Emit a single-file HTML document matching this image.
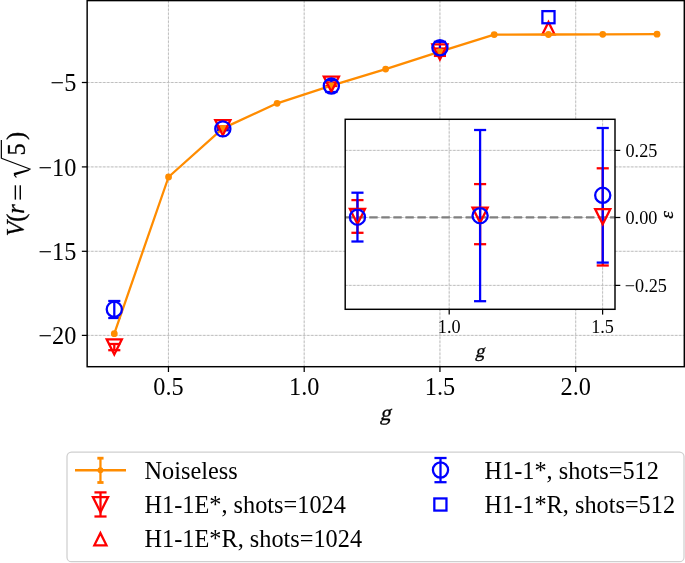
<!DOCTYPE html>
<html><head><meta charset="utf-8"><style>
html,body{margin:0;padding:0;background:#fff;width:685px;height:563px;overflow:hidden;}
svg{display:block;font-family:"Liberation Serif", serif;will-change:transform;}
text{fill:#000;}
</style></head><body>
<svg width="685" height="563" viewBox="0 0 685 563">
<line x1="168.45" y1="0.6" x2="168.45" y2="366.7" stroke="#e4e4e4" stroke-width="0.8"/><line x1="168.45" y1="0.6" x2="168.45" y2="366.7" stroke="#b4b4b4" stroke-width="0.8" stroke-dasharray="2.3,1.7"/>
<line x1="304.2" y1="0.6" x2="304.2" y2="366.7" stroke="#e4e4e4" stroke-width="0.8"/><line x1="304.2" y1="0.6" x2="304.2" y2="366.7" stroke="#b4b4b4" stroke-width="0.8" stroke-dasharray="2.3,1.7"/>
<line x1="439.95" y1="0.6" x2="439.95" y2="366.7" stroke="#e4e4e4" stroke-width="0.8"/><line x1="439.95" y1="0.6" x2="439.95" y2="366.7" stroke="#b4b4b4" stroke-width="0.8" stroke-dasharray="2.3,1.7"/>
<line x1="575.7" y1="0.6" x2="575.7" y2="366.7" stroke="#e4e4e4" stroke-width="0.8"/><line x1="575.7" y1="0.6" x2="575.7" y2="366.7" stroke="#b4b4b4" stroke-width="0.8" stroke-dasharray="2.3,1.7"/>
<line x1="87.15" y1="82.5" x2="684.3" y2="82.5" stroke="#e4e4e4" stroke-width="0.8"/><line x1="87.15" y1="82.5" x2="684.3" y2="82.5" stroke="#b4b4b4" stroke-width="0.8" stroke-dasharray="2.3,1.7"/>
<line x1="87.15" y1="166.9" x2="684.3" y2="166.9" stroke="#e4e4e4" stroke-width="0.8"/><line x1="87.15" y1="166.9" x2="684.3" y2="166.9" stroke="#b4b4b4" stroke-width="0.8" stroke-dasharray="2.3,1.7"/>
<line x1="87.15" y1="251.3" x2="684.3" y2="251.3" stroke="#e4e4e4" stroke-width="0.8"/><line x1="87.15" y1="251.3" x2="684.3" y2="251.3" stroke="#b4b4b4" stroke-width="0.8" stroke-dasharray="2.3,1.7"/>
<line x1="87.15" y1="335.4" x2="684.3" y2="335.4" stroke="#e4e4e4" stroke-width="0.8"/><line x1="87.15" y1="335.4" x2="684.3" y2="335.4" stroke="#b4b4b4" stroke-width="0.8" stroke-dasharray="2.3,1.7"/>
<line x1="114.29" y1="344" x2="114.29" y2="350.2" stroke="#ff0000" stroke-width="2.27"/><line x1="108.23" y1="344" x2="120.35" y2="344" stroke="#ff0000" stroke-width="2.27"/><line x1="108.23" y1="350.2" x2="120.35" y2="350.2" stroke="#ff0000" stroke-width="2.27"/>
<line x1="222.83" y1="126.5" x2="222.83" y2="128.8" stroke="#ff0000" stroke-width="2.27"/><line x1="216.77" y1="126.5" x2="228.89" y2="126.5" stroke="#ff0000" stroke-width="2.27"/><line x1="216.77" y1="128.8" x2="228.89" y2="128.8" stroke="#ff0000" stroke-width="2.27"/>
<line x1="331.37" y1="82.4" x2="331.37" y2="86" stroke="#ff0000" stroke-width="2.27"/><line x1="325.31" y1="82.4" x2="337.43" y2="82.4" stroke="#ff0000" stroke-width="2.27"/><line x1="325.31" y1="86" x2="337.43" y2="86" stroke="#ff0000" stroke-width="2.27"/>
<line x1="439.92" y1="48.5" x2="439.92" y2="55.9" stroke="#ff0000" stroke-width="2.27"/><line x1="433.86" y1="48.5" x2="445.98" y2="48.5" stroke="#ff0000" stroke-width="2.27"/><line x1="433.86" y1="55.9" x2="445.98" y2="55.9" stroke="#ff0000" stroke-width="2.27"/>
<line x1="114.29" y1="301" x2="114.29" y2="318" stroke="#0000ff" stroke-width="2.27"/><line x1="108.23" y1="301" x2="120.35" y2="301" stroke="#0000ff" stroke-width="2.27"/><line x1="108.23" y1="318" x2="120.35" y2="318" stroke="#0000ff" stroke-width="2.27"/>
<line x1="222.83" y1="127.5" x2="222.83" y2="130.3" stroke="#0000ff" stroke-width="2.27"/><line x1="216.77" y1="127.5" x2="228.89" y2="127.5" stroke="#0000ff" stroke-width="2.27"/><line x1="216.77" y1="130.3" x2="228.89" y2="130.3" stroke="#0000ff" stroke-width="2.27"/>
<line x1="331.37" y1="80" x2="331.37" y2="92" stroke="#0000ff" stroke-width="2.27"/><line x1="325.31" y1="80" x2="337.43" y2="80" stroke="#0000ff" stroke-width="2.27"/><line x1="325.31" y1="92" x2="337.43" y2="92" stroke="#0000ff" stroke-width="2.27"/>
<line x1="439.92" y1="41.8" x2="439.92" y2="53.9" stroke="#0000ff" stroke-width="2.27"/><line x1="433.86" y1="41.8" x2="445.98" y2="41.8" stroke="#0000ff" stroke-width="2.27"/><line x1="433.86" y1="53.9" x2="445.98" y2="53.9" stroke="#0000ff" stroke-width="2.27"/>
<path d="M542.4,34.27 L554.53,34.27 L548.46,22.13 Z" fill="none" stroke="#ff0000" stroke-width="2.27" stroke-linejoin="miter" stroke-miterlimit="10"/>
<rect x="542.4" y="11.13" width="12.13" height="12.13" fill="none" stroke="#0000ff" stroke-width="2.27" stroke-linejoin="miter"/>
<polyline points="114.29,333.7 168.56,177 222.83,128.4 277.1,103.3 331.37,85.6 385.65,69.1 439.92,51.6 494.19,34.6 548.46,34.5 602.73,34.3 657.01,34.2" fill="none" stroke="#ff8c00" stroke-width="2.27" stroke-linejoin="round"/>
<circle cx="114.29" cy="333.7" r="3.4" fill="#ff8c00"/>
<circle cx="168.56" cy="177" r="3.4" fill="#ff8c00"/>
<circle cx="222.83" cy="128.4" r="3.4" fill="#ff8c00"/>
<circle cx="277.1" cy="103.3" r="3.4" fill="#ff8c00"/>
<circle cx="331.37" cy="85.6" r="3.4" fill="#ff8c00"/>
<circle cx="385.65" cy="69.1" r="3.4" fill="#ff8c00"/>
<circle cx="439.92" cy="51.6" r="3.4" fill="#ff8c00"/>
<circle cx="494.19" cy="34.6" r="3.4" fill="#ff8c00"/>
<circle cx="548.46" cy="34.5" r="3.4" fill="#ff8c00"/>
<circle cx="602.73" cy="34.3" r="3.4" fill="#ff8c00"/>
<circle cx="657.01" cy="34.2" r="3.4" fill="#ff8c00"/>
<path d="M106.71,339.32 L121.87,339.32 L114.29,354.48 Z" fill="none" stroke="#ff0000" stroke-width="2.27" stroke-linejoin="miter" stroke-miterlimit="10"/>
<path d="M215.25,120.07 L230.41,120.07 L222.83,135.23 Z" fill="none" stroke="#ff0000" stroke-width="2.27" stroke-linejoin="miter" stroke-miterlimit="10"/>
<path d="M323.79,76.62 L338.95,76.62 L331.37,91.78 Z" fill="none" stroke="#ff0000" stroke-width="2.27" stroke-linejoin="miter" stroke-miterlimit="10"/>
<path d="M432.34,44.32 L447.5,44.32 L439.92,59.48 Z" fill="none" stroke="#ff0000" stroke-width="2.27" stroke-linejoin="miter" stroke-miterlimit="10"/>
<circle cx="114.29" cy="309.3" r="7.58" fill="none" stroke="#0000ff" stroke-width="2.27"/>
<circle cx="222.83" cy="128.9" r="7.58" fill="none" stroke="#0000ff" stroke-width="2.27"/>
<circle cx="331.37" cy="86" r="7.58" fill="none" stroke="#0000ff" stroke-width="2.27"/>
<circle cx="439.92" cy="47.8" r="7.58" fill="none" stroke="#0000ff" stroke-width="2.27"/>
<rect x="87.15" y="0.6" width="597.15" height="366.1" fill="none" stroke="#000" stroke-width="1.45"/>
<line x1="168.45" y1="366.7" x2="168.45" y2="372" stroke="#000" stroke-width="1.25"/>
<line x1="304.2" y1="366.7" x2="304.2" y2="372" stroke="#000" stroke-width="1.25"/>
<line x1="439.95" y1="366.7" x2="439.95" y2="372" stroke="#000" stroke-width="1.25"/>
<line x1="575.7" y1="366.7" x2="575.7" y2="372" stroke="#000" stroke-width="1.25"/>
<line x1="87.15" y1="82.5" x2="81.85" y2="82.5" stroke="#000" stroke-width="1.25"/>
<line x1="87.15" y1="166.9" x2="81.85" y2="166.9" stroke="#000" stroke-width="1.25"/>
<line x1="87.15" y1="251.3" x2="81.85" y2="251.3" stroke="#000" stroke-width="1.25"/>
<line x1="87.15" y1="335.4" x2="81.85" y2="335.4" stroke="#000" stroke-width="1.25"/>
<text x="168.45" y="394.8" font-size="24.3" text-anchor="middle">0.5</text>
<text x="304.2" y="394.8" font-size="24.3" text-anchor="middle">1.0</text>
<text x="439.95" y="394.8" font-size="24.3" text-anchor="middle">1.5</text>
<text x="575.7" y="394.8" font-size="24.3" text-anchor="middle">2.0</text>
<text x="76.4" y="91.2" font-size="24.3" text-anchor="end">−5</text>
<text x="76.4" y="175.6" font-size="24.3" text-anchor="end">−10</text>
<text x="76.4" y="260" font-size="24.3" text-anchor="end">−15</text>
<text x="76.4" y="344.1" font-size="24.3" text-anchor="end">−20</text>
<g transform="translate(385.3,420.0) skewX(-13)"><text x="0" y="0" font-size="21.8" text-anchor="middle" stroke="#000" stroke-width="0.3">g</text></g>
<g transform="translate(24.3,235.2) rotate(-90)" fill="#000"><text x="-1.1" y="0" font-size="24.3" font-style="italic" stroke="#000" stroke-width="0.3">V</text><text x="13.5" y="0" font-size="24.3" stroke="#000" stroke-width="0.3">(</text><text x="21.4" y="0" font-size="24.3" font-style="italic" stroke="#000" stroke-width="0.3">r</text><rect x="35.6" y="-9.64" width="14.3" height="1.4"/><rect x="35.6" y="-4.73" width="14.3" height="1.4"/><path d="M77,-22.95 L65.9,6.2" stroke="#000" stroke-width="1.2" fill="none"/><path d="M66.4,6.6 L62.2,-10.7 L59.6,-9.9 L64.3,4.2 Z"/><path d="M60.6,-10.2 L57.7,-7.9" stroke="#000" stroke-width="1.2" fill="none"/><path d="M76.6,-22.95 L95.2,-22.95" stroke="#000" stroke-width="1.2" fill="none"/><text x="79.6" y="0.4" font-size="24.3" stroke="#000" stroke-width="0.3">5</text><text x="95.1" y="0" font-size="24.3" stroke="#000" stroke-width="0.3">)</text></g>
<rect x="345.2" y="119.3" width="269.8" height="190" fill="#fff"/>
<line x1="449.2" y1="119.3" x2="449.2" y2="309.3" stroke="#e4e4e4" stroke-width="0.8"/><line x1="449.2" y1="119.3" x2="449.2" y2="309.3" stroke="#b4b4b4" stroke-width="0.8" stroke-dasharray="2.3,1.7"/>
<line x1="602.6" y1="119.3" x2="602.6" y2="309.3" stroke="#e4e4e4" stroke-width="0.8"/><line x1="602.6" y1="119.3" x2="602.6" y2="309.3" stroke="#b4b4b4" stroke-width="0.8" stroke-dasharray="2.3,1.7"/>
<line x1="345.2" y1="150.4" x2="615" y2="150.4" stroke="#e4e4e4" stroke-width="0.8"/><line x1="345.2" y1="150.4" x2="615" y2="150.4" stroke="#b4b4b4" stroke-width="0.8" stroke-dasharray="2.3,1.7"/>
<line x1="345.2" y1="217.5" x2="615" y2="217.5" stroke="#e4e4e4" stroke-width="0.8"/><line x1="345.2" y1="217.5" x2="615" y2="217.5" stroke="#b4b4b4" stroke-width="0.8" stroke-dasharray="2.3,1.7"/>
<line x1="345.2" y1="285.4" x2="615" y2="285.4" stroke="#e4e4e4" stroke-width="0.8"/><line x1="345.2" y1="285.4" x2="615" y2="285.4" stroke="#b4b4b4" stroke-width="0.8" stroke-dasharray="2.3,1.7"/>
<line x1="345.2" y1="217.4" x2="615.0" y2="217.4" stroke="#808080" stroke-width="2.27" stroke-dasharray="8.4,3.64"/>
<line x1="357.46" y1="200.1" x2="357.46" y2="232.8" stroke="#ff0000" stroke-width="2.27"/><line x1="351.4" y1="200.1" x2="363.52" y2="200.1" stroke="#ff0000" stroke-width="2.27"/><line x1="351.4" y1="232.8" x2="363.52" y2="232.8" stroke="#ff0000" stroke-width="2.27"/>
<line x1="480.1" y1="184.1" x2="480.1" y2="244.2" stroke="#ff0000" stroke-width="2.27"/><line x1="474.04" y1="184.1" x2="486.16" y2="184.1" stroke="#ff0000" stroke-width="2.27"/><line x1="474.04" y1="244.2" x2="486.16" y2="244.2" stroke="#ff0000" stroke-width="2.27"/>
<line x1="602.74" y1="168.3" x2="602.74" y2="265.5" stroke="#ff0000" stroke-width="2.27"/><line x1="596.68" y1="168.3" x2="608.8" y2="168.3" stroke="#ff0000" stroke-width="2.27"/><line x1="596.68" y1="265.5" x2="608.8" y2="265.5" stroke="#ff0000" stroke-width="2.27"/>
<line x1="357.46" y1="192.7" x2="357.46" y2="241.5" stroke="#0000ff" stroke-width="2.27"/><line x1="351.4" y1="192.7" x2="363.52" y2="192.7" stroke="#0000ff" stroke-width="2.27"/><line x1="351.4" y1="241.5" x2="363.52" y2="241.5" stroke="#0000ff" stroke-width="2.27"/>
<line x1="480.1" y1="130" x2="480.1" y2="301.2" stroke="#0000ff" stroke-width="2.27"/><line x1="474.04" y1="130" x2="486.16" y2="130" stroke="#0000ff" stroke-width="2.27"/><line x1="474.04" y1="301.2" x2="486.16" y2="301.2" stroke="#0000ff" stroke-width="2.27"/>
<line x1="602.74" y1="128" x2="602.74" y2="262.6" stroke="#0000ff" stroke-width="2.27"/><line x1="596.68" y1="128" x2="608.8" y2="128" stroke="#0000ff" stroke-width="2.27"/><line x1="596.68" y1="262.6" x2="608.8" y2="262.6" stroke="#0000ff" stroke-width="2.27"/>
<path d="M349.88,208.92 L365.04,208.92 L357.46,224.08 Z" fill="none" stroke="#ff0000" stroke-width="2.27" stroke-linejoin="miter" stroke-miterlimit="10"/>
<path d="M472.52,207.52 L487.68,207.52 L480.1,222.68 Z" fill="none" stroke="#ff0000" stroke-width="2.27" stroke-linejoin="miter" stroke-miterlimit="10"/>
<path d="M595.16,209.02 L610.32,209.02 L602.74,224.18 Z" fill="none" stroke="#ff0000" stroke-width="2.27" stroke-linejoin="miter" stroke-miterlimit="10"/>
<circle cx="357.46" cy="217.2" r="7.58" fill="none" stroke="#0000ff" stroke-width="2.27"/>
<circle cx="480.1" cy="215.7" r="7.58" fill="none" stroke="#0000ff" stroke-width="2.27"/>
<circle cx="602.74" cy="195.3" r="7.58" fill="none" stroke="#0000ff" stroke-width="2.27"/>
<rect x="345.2" y="119.3" width="269.8" height="190" fill="none" stroke="#000" stroke-width="1.45"/>
<line x1="449.2" y1="309.3" x2="449.2" y2="314.6" stroke="#000" stroke-width="1.25"/>
<text x="449.2" y="332.8" font-size="18.2" text-anchor="middle">1.0</text>
<line x1="602.6" y1="309.3" x2="602.6" y2="314.6" stroke="#000" stroke-width="1.25"/>
<text x="602.6" y="332.8" font-size="18.2" text-anchor="middle">1.5</text>
<line x1="615.0" y1="150.4" x2="620.3" y2="150.4" stroke="#000" stroke-width="1.25"/>
<text x="625.5" y="157.1" font-size="18.2">0.25</text>
<line x1="615.0" y1="217.5" x2="620.3" y2="217.5" stroke="#000" stroke-width="1.25"/>
<text x="625.5" y="224.2" font-size="18.2">0.00</text>
<line x1="615.0" y1="285.4" x2="620.3" y2="285.4" stroke="#000" stroke-width="1.25"/>
<text x="624.8" y="292.1" font-size="18.2">−0.25</text>
<g transform="translate(479.7,356.7) skewX(-13)"><text x="0" y="0" font-size="18.7" text-anchor="middle" stroke="#000" stroke-width="0.3">g</text></g>
<g transform="translate(672.9,214.8) rotate(-90)"><text x="0" y="0" font-size="19.6" font-style="italic" text-anchor="middle" stroke="#000" stroke-width="0.3">ε</text></g>
<rect x="67" y="452" width="617" height="109.7" rx="4.5" fill="#fff" stroke="#cfcfcf" stroke-width="1.25"/>
<line x1="75" y1="470.25" x2="126" y2="470.25" stroke="#ff8c00" stroke-width="2.27"/>
<line x1="100.45" y1="458.2" x2="100.45" y2="482.5" stroke="#ff8c00" stroke-width="2.27"/>
<line x1="97.35" y1="458.2" x2="103.55" y2="458.2" stroke="#ff8c00" stroke-width="2.8"/>
<line x1="97.35" y1="482.5" x2="103.55" y2="482.5" stroke="#ff8c00" stroke-width="2.8"/>
<circle cx="100.45" cy="470.3" r="2.95" fill="#ff8c00"/>
<line x1="100.5" y1="492.4" x2="100.5" y2="516.5" stroke="#ff0000" stroke-width="2.27"/><line x1="94.44" y1="492.4" x2="106.56" y2="492.4" stroke="#ff0000" stroke-width="2.27"/><line x1="94.44" y1="516.5" x2="106.56" y2="516.5" stroke="#ff0000" stroke-width="2.27"/>
<path d="M92.92,497.02 L108.08,497.02 L100.5,512.18 Z" fill="none" stroke="#ff0000" stroke-width="2.27" stroke-linejoin="miter" stroke-miterlimit="10"/>
<path d="M94.34,545.27 L106.47,545.27 L100.4,533.13 Z" fill="none" stroke="#ff0000" stroke-width="2.27" stroke-linejoin="miter" stroke-miterlimit="10"/>
<line x1="440.5" y1="458" x2="440.5" y2="482.2" stroke="#0000ff" stroke-width="2.27"/><line x1="434.44" y1="458" x2="446.56" y2="458" stroke="#0000ff" stroke-width="2.27"/><line x1="434.44" y1="482.2" x2="446.56" y2="482.2" stroke="#0000ff" stroke-width="2.27"/>
<circle cx="440.5" cy="470" r="7.58" fill="none" stroke="#0000ff" stroke-width="2.27"/>
<rect x="434.33" y="498.44" width="12.13" height="12.13" fill="none" stroke="#0000ff" stroke-width="2.27" stroke-linejoin="miter"/>
<text x="144.5" y="478.9" font-size="24.3">Noiseless</text>
<text x="144.5" y="512.9" font-size="24.3">H1-1E*, shots=1024</text>
<text x="144.5" y="547.4" font-size="24.3">H1-1E*R, shots=1024</text>
<text x="484.5" y="478.7" font-size="24.3">H1-1*, shots=512</text>
<text x="484.5" y="513.0" font-size="24.3">H1-1*R, shots=512</text>
</svg>
</body></html>
